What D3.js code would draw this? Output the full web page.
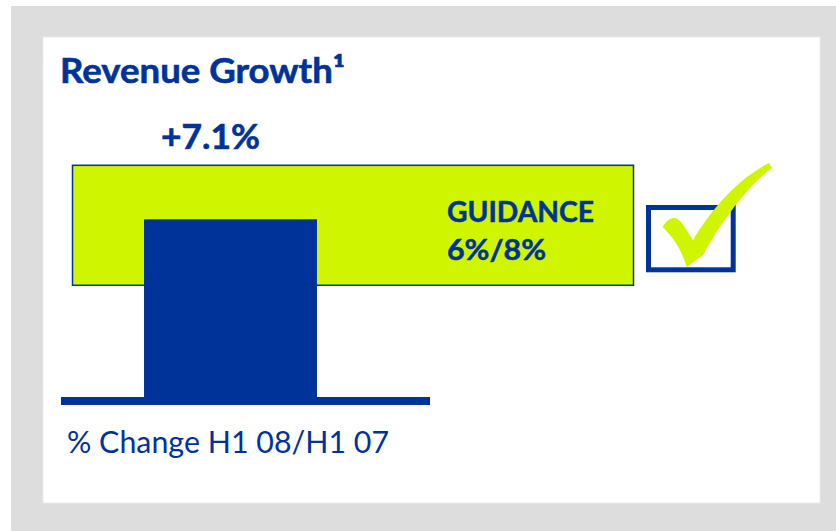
<!DOCTYPE html>
<html>
<head>
<meta charset="utf-8">
<script src="https://cdn.jsdelivr.net/npm/d3@7"></script>
<style>
  html, body { margin: 0; padding: 0; background: #ffffff; }
  svg { display: block; }
</style>
</head>
<body>
<svg id="chart" width="836" height="531"></svg>
<script>
// ---- data ----
const title = "Revenue Growth";
const titleNote = "\u00B9";
const categories = ["% Change H1 08/H1 07"];
const values = [7.1];
const valueLabels = ["+7.1%"];
const guidance = [6, 8];
const guidanceLabels = ["GUIDANCE", "6%/8%"];
const guidanceMet = true;

// ---- styling ----
const BLUE = "#003399";
const LIME = "#d0f500";
const GRAY = "#dddddd";
const FONT = "Lato, 'Open Sans', sans-serif";

const svg = d3.select("#chart");

// frame
svg.append("rect").attr("x", 11).attr("y", 6).attr("width", 825).attr("height", 525).attr("fill", GRAY);
svg.append("rect").attr("x", 43).attr("y", 37).attr("width", 777).attr("height", 466)
  .attr("fill", "#ffffff").attr("stroke", "#ececec").attr("stroke-width", 1);

// scales
const y = d3.scaleLinear().domain([guidance[0], guidance[1]]).range([285.3, 165.3]);
const baseY = 397;
const x = d3.scaleBand().domain(categories).range([61, 400]).paddingInner(0.3243).paddingOuter(0.3243);

// title
const t = svg.append("text").attr("x", 60).attr("y", 83)
  .attr("font-family", FONT).attr("font-weight", 700).attr("font-size", 34)
  .attr("fill", BLUE).attr("stroke", BLUE).attr("stroke-width", 0.6)
  .attr("textLength", 285).attr("lengthAdjust", "spacingAndGlyphs");
t.append("tspan").text(title);
t.append("tspan").text(titleNote);

// guidance band
svg.append("rect")
  .attr("x", 72.5).attr("width", 561)
  .attr("y", y(guidance[1])).attr("height", y(guidance[0]) - y(guidance[1]))
  .attr("fill", LIME).attr("stroke", BLUE).attr("stroke-width", 1.5);

svg.append("text").attr("x", 447).attr("y", 222)
  .attr("font-family", FONT).attr("font-weight", 700).attr("font-size", 28)
  .attr("fill", BLUE).attr("stroke", BLUE).attr("stroke-width", 0.5)
  .attr("textLength", 147).attr("lengthAdjust", "spacingAndGlyphs")
  .text(guidanceLabels[0]);
svg.append("text").attr("x", 447).attr("y", 260)
  .attr("font-family", FONT).attr("font-weight", 700).attr("font-size", 29)
  .attr("fill", BLUE).attr("stroke", BLUE).attr("stroke-width", 0.5)
  .attr("textLength", 99).attr("lengthAdjust", "spacingAndGlyphs")
  .text(guidanceLabels[1]);

// bars
svg.selectAll("rect.bar").data(values).join("rect").attr("class", "bar")
  .attr("x", (d, i) => x(categories[i])).attr("width", x.bandwidth())
  .attr("y", d => y(d)).attr("height", d => baseY - y(d))
  .attr("fill", BLUE);

// value labels
svg.selectAll("text.vlab").data(values).join("text").attr("class", "vlab")
  .attr("x", (d, i) => x(categories[i]) + 17).attr("y", 149)
  .attr("font-family", FONT).attr("font-weight", 700).attr("font-size", 35)
  .attr("fill", BLUE).attr("stroke", BLUE).attr("stroke-width", 0.6)
  .attr("textLength", 99).attr("lengthAdjust", "spacingAndGlyphs")
  .text((d, i) => valueLabels[i]);

// baseline
svg.append("rect").attr("x", 61).attr("y", baseY).attr("width", 369).attr("height", 8).attr("fill", BLUE);

// category label
svg.selectAll("text.cat").data(categories).join("text").attr("class", "cat")
  .attr("x", 67).attr("y", 453)
  .attr("font-family", FONT).attr("font-weight", 400).attr("font-size", 30)
  .attr("fill", BLUE).attr("textLength", 322).attr("lengthAdjust", "spacingAndGlyphs")
  .text(d => d);

// checkbox + checkmark
if (guidanceMet) {
  svg.append("rect").attr("x", 648.5).attr("y", 207.5).attr("width", 84.7).attr("height", 62.3)
    .attr("fill", "none").attr("stroke", BLUE).attr("stroke-width", 5);
  svg.append("path")
    .attr("d", "M662.5,227 C666,221 670,218 674,218 C680,218 684,226 693,240 " +
               "C710,212 735,180 769,163 L772,168 C752,182 725,215 703,255 " +
               "L686.7,267 C682,252 676,240 662.5,227 Z")
    .attr("fill", LIME);
}
</script>
</body>
</html>
